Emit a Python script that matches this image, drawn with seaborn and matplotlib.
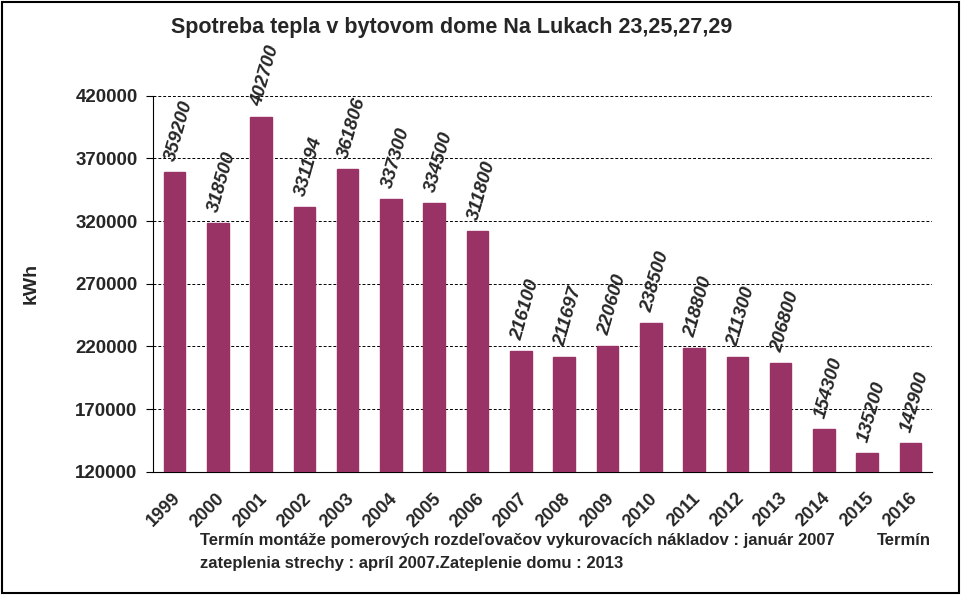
import matplotlib
matplotlib.use("Agg")
import matplotlib.pyplot as plt
import matplotlib.transforms as mtransforms
import seaborn as sns
import pandas as pd
from matplotlib.patches import Rectangle

years = ["1999", "2000", "2001", "2002", "2003", "2004", "2005", "2006", "2007",
         "2008", "2009", "2010", "2011", "2012", "2013", "2014", "2015", "2016"]
kwh = [359200, 318500, 402700, 331194, 361806, 337300, 334500, 311800, 216100,
       211697, 220600, 238500, 218800, 211300, 206800, 154300, 135200, 142900]
y_ticks = [120000, 170000, 220000, 270000, 320000, 370000, 420000]

df = pd.DataFrame({"rok": years, "kwh": kwh})

sns.set_style("white")
plt.rcParams["font.family"] = ["Liberation Sans", "DejaVu Sans"]

fig = plt.figure(figsize=(9.61, 5.95), dpi=100)
ax = fig.add_axes([0.159, 0.207, 0.811, 0.632])

sns.barplot(data=df, x="rok", y="kwh", color="#993366", saturation=1, width=0.5,
            edgecolor="#993366", ax=ax, zorder=3)

ax.set_ylim(120000, 420000)
ax.set_yticks(y_ticks)
ax.set_yticklabels([str(v) for v in y_ticks], fontsize=13.5, fontweight="bold")
ax.set_xlim(-0.5, len(years) - 0.5)
ax.set_xticks(range(len(years)))
ax.set_xticklabels(years, rotation=45, ha="right", rotation_mode="anchor",
                   fontsize=13, fontweight="bold")
ax.set_xticks([i + 0.5 for i in range(-1, len(years))], minor=True)
ax.tick_params(axis="x", which="major", length=0, pad=13)
ax.tick_params(axis="x", which="minor", length=5, direction="out", color="black")
ax.tick_params(axis="y", length=5, direction="out", color="black", left=True, pad=6)

shift = mtransforms.ScaledTranslation(-2 / 100, 0, fig.dpi_scale_trans)
for lbl in ax.get_xticklabels():
    lbl.set_transform(lbl.get_transform() + shift)

ax.grid(axis="y", linestyle=(0, (3, 2)), color="black", linewidth=0.7, zorder=0)
for side in ["top", "right"]:
    ax.spines[side].set_visible(False)
ax.spines["left"].set_color("black")
ax.spines["bottom"].set_color("black")

ax.set_xlabel("")
ax.set_ylabel("kWh", fontsize=14, fontweight="bold", labelpad=26)

for i, v in enumerate(kwh):
    ax.text(i - 0.09, v + 9000, str(v), rotation=74, ha="left", va="center",
            rotation_mode="anchor", fontsize=13.5, fontweight="bold",
            fontstyle="italic", clip_on=False)

fig.text(0.47, 0.953, "Spotreba tepla v bytovom dome Na Lukach 23,25,27,29",
         ha="center", va="center", fontsize=15.5, fontweight="bold")
fig.text(0.208, 0.092,
         "Termín montáže pomerových rozdeľovačov vykurovacích nákladov : január 2007",
         ha="left", va="center", fontsize=12, fontweight="bold")
fig.text(0.912, 0.092, "Termín", ha="left", va="center", fontsize=12,
         fontweight="bold")
fig.text(0.208, 0.053, "zateplenia strechy : apríl 2007.Zateplenie domu : 2013",
         ha="left", va="center", fontsize=12, fontweight="bold")

fig.patches.append(Rectangle((0.002, 0.003), 0.996, 0.994, transform=fig.transFigure,
                             fill=False, edgecolor="black", linewidth=1.5))

fig.savefig("out.png", dpi=100)
